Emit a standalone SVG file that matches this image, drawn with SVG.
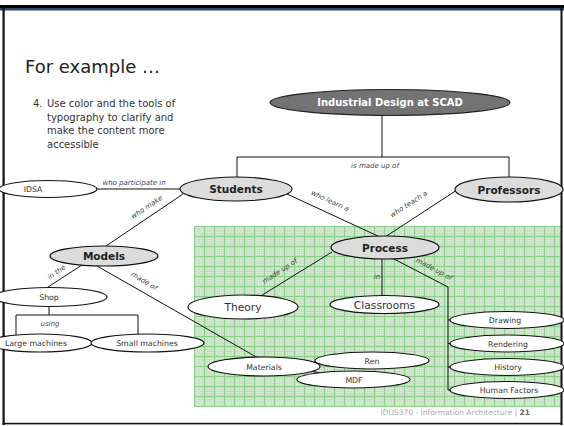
<svg xmlns="http://www.w3.org/2000/svg" width="564" height="426" viewBox="0 0 564 426">
<style>
text{font-family:"DejaVu Sans","Liberation Sans",sans-serif}
.node{stroke:#111;stroke-width:1.2}
.w{fill:#fff}
.g{fill:#dcdcdc}
.t{font-size:7.8px;fill:#333;text-anchor:middle}
.tb{font-size:10.5px;font-weight:bold;fill:#222;text-anchor:middle}
.tm{font-size:10.7px;fill:#333;text-anchor:middle}
.lbl{font-size:7px;font-style:italic;fill:#444;text-anchor:middle}
.ln{stroke:#111;stroke-width:1;fill:none}
</style>
<defs>
<pattern id="dots" width="2" height="2" patternUnits="userSpaceOnUse">
<rect width="1" height="1" fill="#ffffff" fill-opacity="0.4"/>
</pattern>
<pattern id="grid" x="194" y="226" width="10" height="10" patternUnits="userSpaceOnUse">
<path d="M0 0.5H10M0.5 0V10" stroke="#8bd189" stroke-width="1"/>
</pattern>
</defs>
<rect width="564" height="426" fill="#fff"/>
<g id="background">
<rect x="194" y="226" width="367" height="181" fill="#c2e6bc"/>
<rect x="194" y="226" width="367" height="181" fill="url(#dots)"/>
<rect x="194" y="226" width="367" height="181" fill="url(#grid)"/>
</g>
<g id="frame">
<rect x="0" y="5" width="564" height="3" fill="#000"/>
<rect x="0" y="8" width="564" height="2.5" fill="#2e4766"/>
<rect x="2.5" y="5" width="2.2" height="420" fill="#111"/>
<rect x="560.5" y="5" width="2" height="420" fill="#111"/>
<rect x="2.5" y="422.8" width="560" height="1.6" fill="#111"/>
</g>
<g id="title">
<text x="25" y="73" font-size="18" fill="#222">For example …</text>
<text font-size="10" fill="#333"><tspan x="33" y="107">4.</tspan><tspan x="47" y="107">Use color and the tools of</tspan><tspan x="47" y="120.5">typography to clarify and</tspan><tspan x="47" y="134">make the content more</tspan><tspan x="47" y="147.5">accessible</tspan></text>
</g>
<g id="connectors">
<path class="ln" d="M382 115V157M237 177V157H509V177"/>
<text class="lbl" x="375" y="168">is made up of</text>
<path class="ln" d="M97 189H181"/>
<text class="lbl" x="134" y="184.5">who participate in</text>
<path class="ln" d="M183 194L106 246"/>
<text class="lbl" transform="translate(148,209) rotate(-34)">who make</text>
<path class="ln" d="M287 194L380 237"/>
<text class="lbl" transform="translate(329,203) rotate(25)">who learn a</text>
<path class="ln" d="M457 190L385 237"/>
<text class="lbl" transform="translate(410,206) rotate(-33)">who teach a</text>
<path class="ln" d="M332 252L259 297"/>
<text class="lbl" transform="translate(281,273) rotate(-33)">made up of</text>
<path class="ln" d="M382 259V296"/>
<text class="lbl" x="377" y="279">in</text>
<path class="ln" d="M392 258L448 287V390M448 320H452M448 343.5H452M448 367H452M448 390H452"/>
<text class="lbl" transform="translate(433,271) rotate(28)">made up of</text>
<path class="ln" d="M82 265L45 289"/>
<text class="lbl" transform="translate(58,274) rotate(-35)">in the</text>
<path class="ln" d="M49 306V315M16 335V315H138V335"/>
<text class="lbl" x="50" y="326">using</text>
<path class="ln" d="M97 266L258 358"/>
<text class="lbl" transform="translate(143,283) rotate(32)">made of</text>
<path class="ln" d="M290 366L360 360M290 366L350 380"/>
</g>
<g id="n-scad">
<ellipse cx="390" cy="102.5" rx="120" ry="13" fill="#737373" stroke="#222" stroke-width="1.2"/>
<text x="390" y="106" font-size="10" font-weight="bold" fill="#fff" text-anchor="middle">Industrial Design at SCAD</text>
</g>
<g id="n-students"><ellipse class="node g" cx="236" cy="189" rx="56" ry="12"/><text class="tb" x="236" y="193">Students</text></g>
<g id="n-professors"><ellipse class="node g" cx="509" cy="189.5" rx="54" ry="12.5"/><text class="tb" x="509" y="193.5">Professors</text></g>
<g id="n-idsa"><ellipse class="node w" cx="48" cy="189" rx="49" ry="8.5"/><text class="t" x="33" y="192">IDSA</text></g>
<g id="n-models"><ellipse class="node g" cx="104" cy="256" rx="54" ry="10"/><text class="tb" x="104" y="260">Models</text></g>
<g id="n-process"><ellipse class="node g" cx="385" cy="247.5" rx="54" ry="11.5"/><text class="tb" x="385" y="251.5">Process</text></g>
<g id="n-theory"><ellipse class="node w" cx="243" cy="307" rx="55" ry="12"/><text class="tm" x="243" y="311">Theory</text></g>
<g id="n-classrooms"><ellipse class="node w" cx="384.5" cy="304.5" rx="54.5" ry="9"/><text class="tm" x="384.5" y="308.5">Classrooms</text></g>
<g id="n-shop"><ellipse class="node w" cx="50" cy="297" rx="57" ry="9.5"/><text class="t" x="49" y="300">Shop</text></g>
<g id="n-large"><ellipse class="node w" cx="40" cy="343" rx="52" ry="9"/><text class="t" x="36" y="346">Large machines</text></g>
<g id="n-small"><ellipse class="node w" cx="147.5" cy="343" rx="56.5" ry="9"/><text class="t" x="147" y="346">Small machines</text></g>
<g id="n-materials"><ellipse class="node w" cx="264" cy="366.5" rx="56" ry="9.5"/><text class="t" x="264" y="369.5">Materials</text></g>
<g id="n-ren"><ellipse class="node w" cx="372" cy="360.5" rx="57" ry="8.5"/><text class="t" x="372" y="363.5">Ren</text></g>
<g id="n-mdf"><ellipse class="node w" cx="353.5" cy="379.5" rx="56.5" ry="8.5"/><text class="t" x="354" y="382.5">MDF</text></g>
<g id="n-drawing"><ellipse class="node w" cx="507" cy="320" rx="57" ry="8.5"/><text class="t" x="505" y="323">Drawing</text></g>
<g id="n-rendering"><ellipse class="node w" cx="507" cy="343.5" rx="57" ry="8.5"/><text class="t" x="508" y="346.5">Rendering</text></g>
<g id="n-history"><ellipse class="node w" cx="507" cy="367" rx="57" ry="8.5"/><text class="t" x="508" y="370">History</text></g>
<g id="n-human"><ellipse class="node w" cx="507" cy="390" rx="57" ry="8.5"/><text class="t" x="509" y="393">Human Factors</text></g>
<g id="footer">
<text x="530" y="415" font-size="7.5" fill="#aaa" text-anchor="end">IDUS370 - Information Architecture | <tspan font-weight="bold" fill="#666">21</tspan></text>
</g>
</svg>
